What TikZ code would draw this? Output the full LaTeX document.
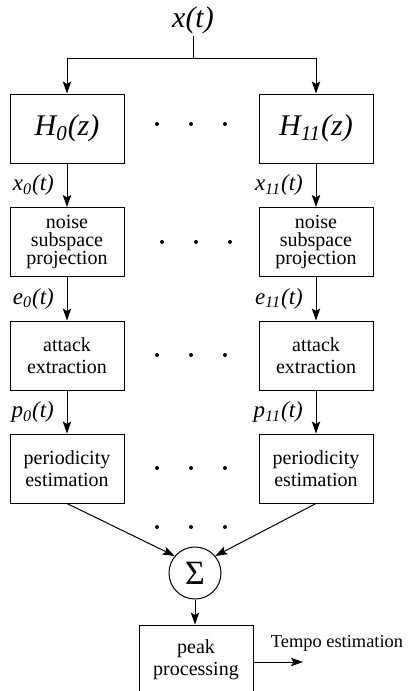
\documentclass[tikz,border=0pt]{standalone}
\usepackage{fontspec}
\setmainfont{Liberation Serif}
\usetikzlibrary{arrows.meta}

\tikzset{
  bloc/.style={draw, minimum width=57pt, minimum height=34.5pt, align=center, inner sep=1pt,
    font=\fontsize{10}{10.8}\selectfont},
  filtre/.style={bloc, font=\fontsize{15}{15}\selectfont\itshape},
  fleche/.style={-{Stealth[length=6pt,width=4.2pt,inset=1.2pt]}},
  signal/.style={font=\fontsize{11.5}{12}\selectfont\itshape},
}

\begin{document}
\begin{tikzpicture}[x=0.5pt, y=-0.5pt, line width=0.5pt]
    \useasboundingbox (0,0) rectangle (413,691);

    % Entrée
    \node[font=\fontsize{15}{15}\selectfont\itshape, inner sep=1pt] (xt) at (193,20) {x(t)};
    \coordinate (split) at (193,58);
    \draw (xt.south) -- (split);

    % Colonne 0
    \node[filtre] (H0) at (67,128.5) {H\textsubscript{0}(z)};
    \node[bloc, font=\fontsize{10}{9}\selectfont] (N0) at (67,242) {noise\\subspace\\projection};
    \node[bloc] (A0) at (67,355.5) {attack\\extraction};
    \node[bloc] (P0) at (67,468.5) {periodicity\\estimation};

    % Colonne 11
    \node[filtre] (H11) at (316,128.5) {H\textsubscript{11}(z)};
    \node[bloc, font=\fontsize{10}{9}\selectfont] (N11) at (316,242) {noise\\subspace\\projection};
    \node[bloc] (A11) at (316,355.5) {attack\\extraction};
    \node[bloc] (P11) at (316,468.5) {periodicity\\estimation};

    \draw[fleche] (split) -| (H0);
    \draw[fleche] (split) -| (H11);

    \draw[fleche] (H0) -- node[signal, left=3pt] {x\textsubscript{0}(t)} (N0);
    \draw[fleche] (N0) -- node[signal, left=3pt] {e\textsubscript{0}(t)} (A0);
    \draw[fleche] (A0) -- node[signal, left=3pt] {p\textsubscript{0}(t)} (P0);

    \draw[fleche] (H11) -- node[signal, left=3pt] {x\textsubscript{11}(t)} (N11);
    \draw[fleche] (N11) -- node[signal, left=3pt] {e\textsubscript{11}(t)} (A11);
    \draw[fleche] (A11) -- node[signal, left=3pt] {p\textsubscript{11}(t)} (P11);

    % Points de suspension
    \foreach \y in {124,355,468,527}
        \foreach \x in {157,191,225}
            \fill (\x,\y) circle (1pt);
    \foreach \x in {162,196,230}
        \fill (\x,242) circle (1pt);

    % Somme
    \node[draw, circle, minimum size=26pt, inner sep=0pt, font=\fontsize{17}{17}\selectfont] (sum) at (195,573) {Σ};
    \draw[fleche] (P0.south) -- (sum.140);
    \draw[fleche] (P11.south) -- (sum.40);

    % Sortie
    \node[bloc] (peak) at (196,659.5) {peak\\processing};
    \draw[fleche] (sum.south) -- (sum.south |- peak.north);
    \coordinate (out) at (303,662);
    \draw[fleche] (peak.east |- out) -- (out);
    \node[font=\fontsize{9.2}{10}\selectfont] (tempo) at (337,643) {Tempo estimation};
\end{tikzpicture}
\end{document}
